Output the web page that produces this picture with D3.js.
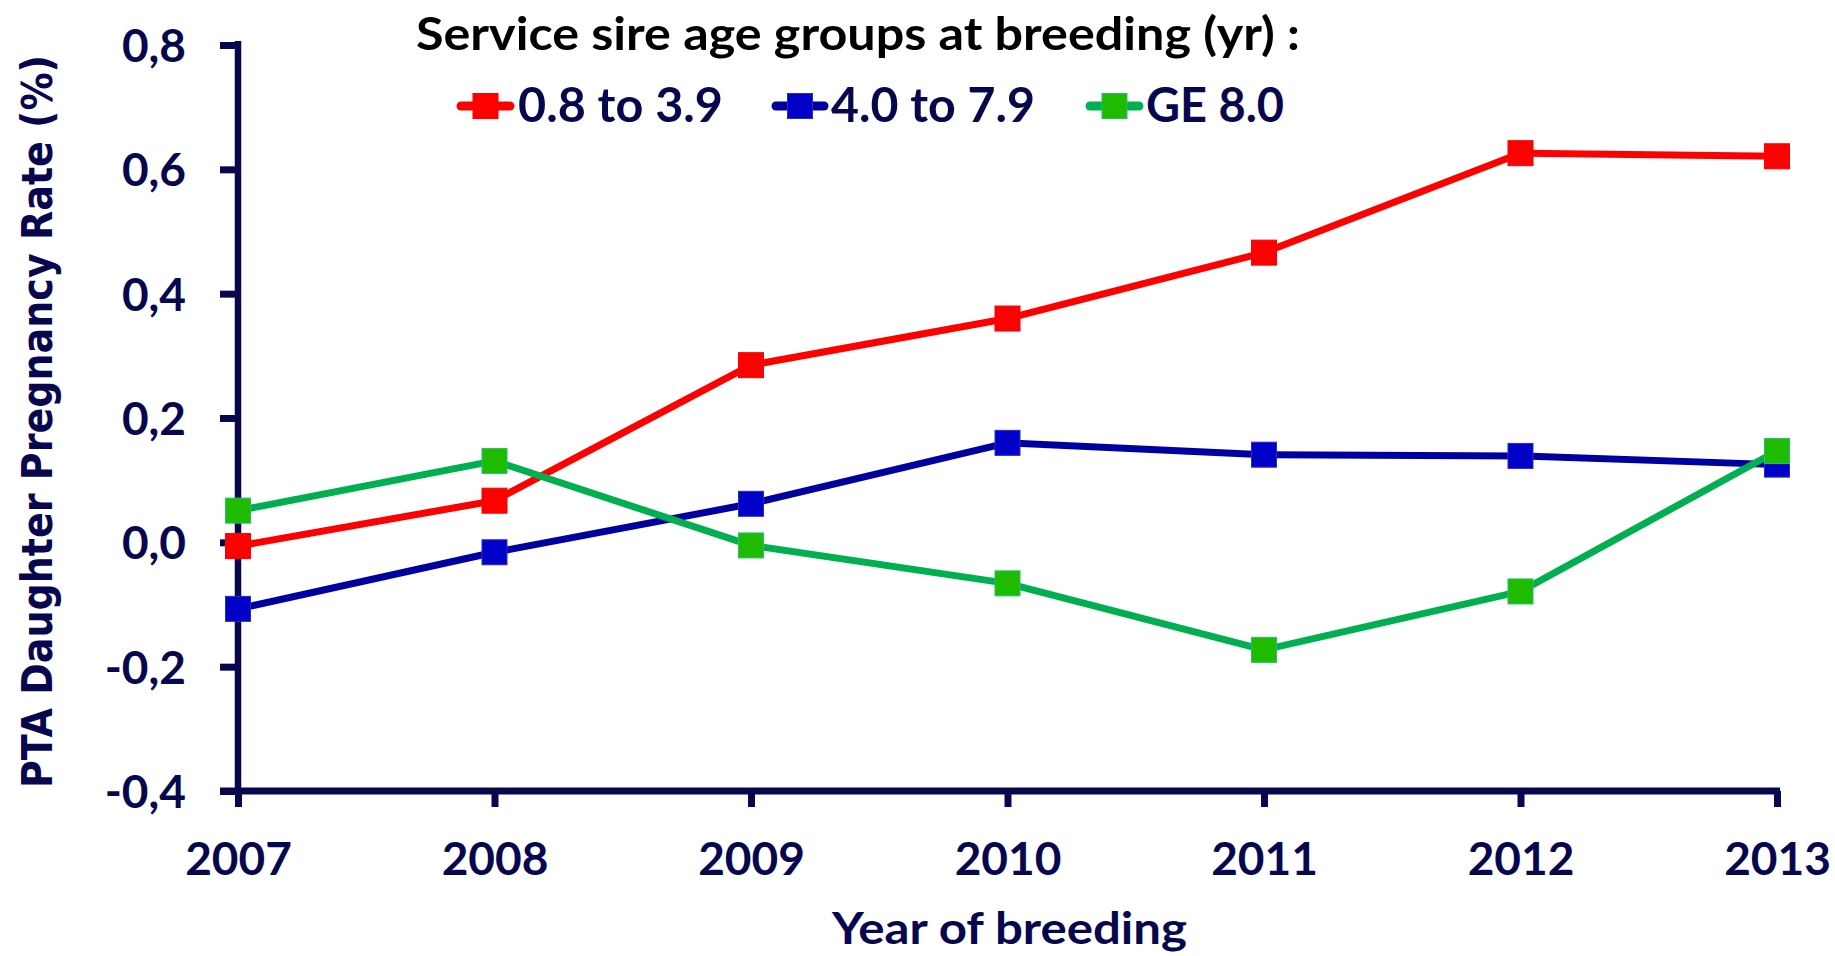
<!DOCTYPE html>
<html>
<head>
<meta charset="utf-8">
<script src="https://cdn.jsdelivr.net/npm/d3@7"></script>
<style>
  html, body { margin: 0; padding: 0; background: #ffffff; }
  svg { display: block; }
</style>
</head>
<body>
<svg id="chart" width="1835" height="956"></svg>
<script>
// ---- data ----
const years = [2007, 2008, 2009, 2010, 2011, 2012, 2013];
const seriesNames = ["0.8 to 3.9", "4.0 to 7.9", "GE 8.0"];
const young = [-0.006, 0.067, 0.285, 0.360, 0.466, 0.626, 0.621];
const middle = [-0.107, -0.016, 0.062, 0.160, 0.141, 0.139, 0.125];
const old = [0.051, 0.131, -0.005, -0.066, -0.173, -0.079, 0.147];
const yTicks = [-0.4, -0.2, 0.0, 0.2, 0.4, 0.6, 0.8];
const legendTitle = "Service sire age groups at breeding (yr) :";
const xTitle = "Year of breeding";
const yTitle = "PTA Daughter Pregnancy Rate (%)";

// ---- styles ----
const navy = "#07074f";
const lineColors = ["#ff0000", "#0000a0", "#00b050"];
const markColors = ["#ff0000", "#0000c8", "#1ebb00"];
const markStroke = ["#ff0000", "#2a2ad0", "#22c070"];
const series = [young, middle, old];

const svg = d3.select("#chart");
const pLeft = 238, pRight = 1777, pTop = 45, pBottom = 791;

const x = d3.scalePoint().domain(years).range([pLeft, pRight]);
const y = d3.scaleLinear().domain([-0.4, 0.8]).range([pBottom, pTop]);

// ---- axes ----
const fmt = v => d3.format(".1f")(v).replace("−", "-").replace(".", ",");
const yAxis = svg.append("g")
  .attr("transform", `translate(${pLeft},0)`)
  .call(d3.axisLeft(y).tickValues(yTicks).tickFormat(fmt).tickSize(18).tickSizeOuter(0).tickPadding(34));
yAxis.select(".domain").attr("stroke", navy).attr("stroke-width", 6.5)
  .attr("d", `M0,${pTop - 4}V${pBottom + 3}`);
yAxis.selectAll(".tick line").attr("stroke", navy).attr("stroke-width", 7);
yAxis.selectAll(".tick text")
  .attr("fill", navy)
  .attr("font-family", "Lato, 'Open Sans', sans-serif")
  .attr("font-weight", "bold")
  .attr("font-size", 46)
  .attr("dy", 16.5);

const xAxis = svg.append("g")
  .attr("transform", `translate(0,${pBottom})`)
  .call(d3.axisBottom(x).tickSize(16).tickSizeOuter(0).tickPadding(10));
xAxis.select(".domain").attr("stroke", navy).attr("stroke-width", 7)
  .attr("d", `M${pLeft - 18},0H${pRight + 3}`);
xAxis.selectAll(".tick line").attr("stroke", navy).attr("stroke-width", 7);
xAxis.selectAll(".tick text")
  .attr("fill", navy)
  .attr("font-family", "Lato, 'Open Sans', sans-serif")
  .attr("font-weight", "bold")
  .attr("font-size", 46)
  .attr("y", 84)
  .attr("dy", 0);

// ---- series ----
const line = d3.line().x((d, i) => x(years[i])).y(d => y(d));
const ms = 25;
series.forEach((vals, si) => {
  const g = svg.append("g");
  g.append("path")
    .datum(vals)
    .attr("d", line)
    .attr("fill", "none")
    .attr("stroke", lineColors[si])
    .attr("stroke-width", 7)
    .attr("stroke-linejoin", "round");
  g.selectAll("rect")
    .data(vals)
    .join("rect")
    .attr("x", (d, i) => x(years[i]) - ms / 2)
    .attr("y", d => y(d) - ms / 2)
    .attr("width", ms)
    .attr("height", ms)
    .attr("fill", markColors[si])
    .attr("stroke", markStroke[si])
    .attr("stroke-width", 1);
});

// ---- legend ----
svg.append("text")
  .attr("x", 416).attr("y", 50)
  .attr("font-family", "Lato, 'Open Sans', sans-serif")
  .attr("font-weight", "bold")
  .attr("font-size", 46)
  .attr("fill", "#000000")
  .attr("textLength", 884)
  .attr("lengthAdjust", "spacingAndGlyphs")
  .text(legendTitle);

const legItems = [
  { lx0: 457, lx1: 514, tx: 518, tw: 205 },
  { lx0: 772, lx1: 828, tx: 831, tw: 204 },
  { lx0: 1086, lx1: 1143, tx: 1146, tw: 138 }
];
const legY = 106;
legItems.forEach((it, si) => {
  svg.append("line")
    .attr("x1", it.lx0 + 4).attr("x2", it.lx1 - 4)
    .attr("y1", legY).attr("y2", legY)
    .attr("stroke", lineColors[si])
    .attr("stroke-width", 9)
    .attr("stroke-linecap", "round");
  const cx = (it.lx0 + it.lx1) / 2;
  svg.append("rect")
    .attr("x", cx - ms / 2).attr("y", legY - ms / 2)
    .attr("width", ms).attr("height", ms)
    .attr("fill", markColors[si])
    .attr("stroke", markStroke[si])
    .attr("stroke-width", 1);
  svg.append("text")
    .attr("x", it.tx).attr("y", 122)
    .attr("font-family", "Lato, 'Open Sans', sans-serif")
    .attr("font-weight", "bold")
    .attr("font-size", 48)
    .attr("fill", navy)
    .attr("textLength", it.tw)
    .attr("lengthAdjust", "spacingAndGlyphs")
    .text(seriesNames[si]);
});

// ---- axis titles ----
svg.append("text")
  .attr("x", (pLeft + pRight) / 2 + 2).attr("y", 944)
  .attr("text-anchor", "middle")
  .attr("font-family", "Lato, 'Open Sans', sans-serif")
  .attr("font-weight", "bold")
  .attr("font-size", 44)
  .attr("fill", navy)
  .attr("textLength", 355)
  .attr("lengthAdjust", "spacingAndGlyphs")
  .text(xTitle);

svg.append("text")
  .attr("transform", "translate(52,421.5) rotate(-90)")
  .attr("text-anchor", "middle")
  .attr("font-family", "'DejaVu Sans Condensed', 'DejaVu Sans', Verdana, sans-serif")
  .attr("font-stretch", "condensed")
  .attr("font-weight", "bold")
  .attr("font-size", 42)
  .attr("fill", navy)
  .attr("textLength", 733)
  .attr("lengthAdjust", "spacingAndGlyphs")
  .text(yTitle);
</script>
</body>
</html>
